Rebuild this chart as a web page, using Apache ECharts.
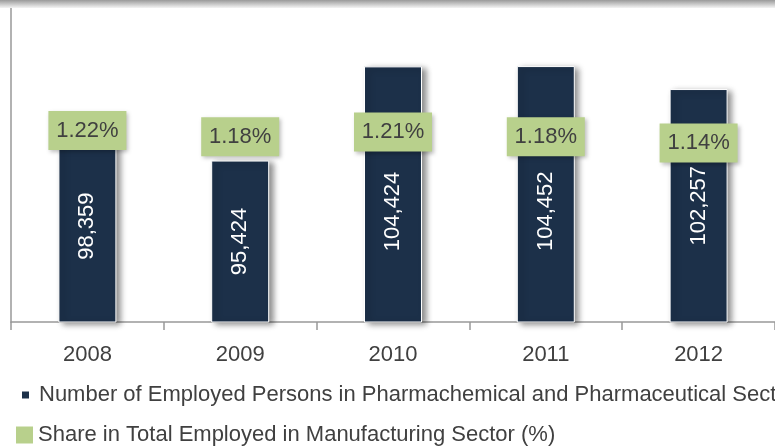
<!DOCTYPE html>
<html><head><meta charset="utf-8">
<script src="https://cdn.jsdelivr.net/npm/echarts@6/dist/echarts.min.js"></script>
<style>html,body{margin:0;padding:0;background:#fff}#c{width:775px;height:448px}</style>
</head><body><div id="c"></div>
<script>
const years = ['2008', '2009', '2010', '2011', '2012'];
const employed = [98359, 95424, 104424, 104452, 102257];
const sharePct = [1.22, 1.18, 1.21, 1.18, 1.14];
const nameEmployed = 'Number of Employed Persons in Pharmachemical and Pharmaceutical Sector';
const nameShare = 'Share in Total Employed in Manufacturing Sector (%)';

// label placement tweaks (style only): downward shift in px
const barLabelShiftY = [0, 0, 17, 17, 0];

const FONT = '"Liberation Sans", Arial, sans-serif';
const NAVY = '#1c3049';
const GREEN = '#b8d08c';
const chart = echarts.init(document.getElementById('c'));
chart.setOption({
  animation: false,
  textStyle: { fontFamily: FONT },
  graphic: [{
    type: 'rect', left: 0, top: 0, shape: { width: 775, height: 8 }, z: 10,
    style: { fill: new echarts.graphic.LinearGradient(0, 0, 0, 1, [{ offset: 0, color: '#9a9a9a' }, { offset: 1, color: '#f4f4f4' }]) }
  }],
  grid: { left: 11, right: -1, top: 8, bottom: 126 },
  legend: [{
    data: [nameEmployed], orient: 'vertical', left: 15, top: 379,
    itemWidth: 9, itemHeight: 9, icon: 'rect',
    textStyle: { fontFamily: FONT, fontSize: 22, color: '#404040', padding: [0, 0, 0, 4] }
  }, {
    data: [nameShare], orient: 'vertical', left: 11, top: 419,
    itemWidth: 17, itemHeight: 17, icon: 'rect',
    textStyle: { fontFamily: FONT, fontSize: 22, color: '#404040' }
  }],
  xAxis: {
    type: 'category', data: years,
    axisLine: { lineStyle: { color: '#999', width: 1.5 } },
    axisTick: { show: true, length: 8, lineStyle: { color: '#999', width: 1.5 } },
    axisLabel: { fontFamily: FONT, fontSize: 22, color: '#404040', margin: 22 }
  },
  yAxis: [{
    type: 'value', min: 80000, max: 110000,
    axisLine: { show: true, lineStyle: { color: '#999', width: 1.5 } },
    axisTick: { show: false }, axisLabel: { show: false }, splitLine: { show: false }
  }, {
    type: 'value', min: 0, max: 2, show: false, splitLine: { show: false }
  }],
  series: [{
    name: nameEmployed, type: 'bar', barWidth: 58,
    data: employed.map((v, i) => ({ value: v, label: { offset: [-barLabelShiftY[i], 0] } })),
    itemStyle: { color: NAVY, borderColor: '#ffffff', borderWidth: 1,
      shadowColor: 'rgba(0,0,0,0.45)', shadowBlur: 6, shadowOffsetX: 4, shadowOffsetY: 2 },
    label: { show: true, position: 'inside', rotate: 90, color: '#fff', fontFamily: FONT, fontSize: 22,
      formatter: p => p.value.toLocaleString('en-US') }
  }, {
    name: nameShare, type: 'scatter', yAxisIndex: 1, data: sharePct,
    symbol: 'rect', symbolSize: [78, 39], z: 5,
    itemStyle: { color: GREEN, opacity: 1, shadowColor: 'rgba(0,0,0,0.25)', shadowBlur: 4, shadowOffsetX: 2, shadowOffsetY: 2 },
    label: { show: true, position: 'inside', color: '#404040', fontFamily: FONT, fontSize: 22,
      formatter: p => p.value.toFixed(2) + '%' }
  }]
});
</script></body></html>
